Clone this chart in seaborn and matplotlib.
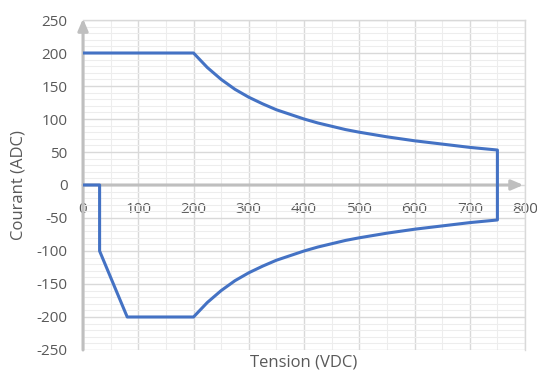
import numpy as np
import pandas as pd
import matplotlib
matplotlib.use("Agg")
import matplotlib.pyplot as plt
import seaborn as sns
from matplotlib.ticker import MultipleLocator

# Données (Tension en VDC, Courant en ADC)
tension = [0, 30, 30, 80, 200, 225, 250, 275, 300, 325, 350, 375, 400, 425, 450, 475,
           500, 550, 600, 650, 700, 750, 750, 700, 650, 600, 550, 500, 475, 450, 425,
           400, 375, 350, 325, 300, 275, 250, 225, 200, 0]
courant = [0, 0, -100, -200, -200, -178, -160, -145, -133, -123, -114, -107, -100, -94,
           -89, -84, -80, -73, -67, -62, -57, -53, 53, 57, 62, 67, 73, 80, 84, 89, 94,
           100, 107, 114, 123, 133, 145, 160, 178, 200, 200]

df = pd.DataFrame({"Tension": tension, "Courant": courant})

sns.set_style("white")
plt.rcParams["font.family"] = ["Open Sans", "DejaVu Sans"]
plt.rcParams["axes.unicode_minus"] = False

fig = plt.figure(figsize=(5.37, 3.74), dpi=100)
ax = fig.add_axes([0.1546, 0.0642, 0.8231, 0.8823])

sns.lineplot(data=df, x="Tension", y="Courant", sort=False, estimator=None,
             color="#4472C4", linewidth=2.2, ax=ax, zorder=5)

ax.set_xlim(0, 800)
ax.set_ylim(-250, 250)
ax.xaxis.set_major_locator(MultipleLocator(100))
ax.xaxis.set_minor_locator(MultipleLocator(50))
ax.yaxis.set_major_locator(MultipleLocator(50))
ax.yaxis.set_minor_locator(MultipleLocator(10))
ax.grid(which="major", color="#D9D9D9", linewidth=1.0)
ax.grid(which="minor", color="#EDEDED", linewidth=0.8)
ax.set_axisbelow(True)

# axes en croix avec flèches
ax.spines["bottom"].set_position(("data", 0))
for s in ["bottom", "left"]:
    ax.spines[s].set_visible(False)
for s in ["top", "right"]:
    ax.spines[s].set_color("#D9D9D9")
    ax.spines[s].set_linewidth(1.0)

arrow = dict(arrowstyle="-|>,head_length=0.7,head_width=0.3", color="#BFBFBF",
             linewidth=2.2, shrinkA=0, shrinkB=0)
ax.annotate("", xy=(797, 0), xytext=(0, 0), arrowprops=arrow, zorder=3)
ax.annotate("", xy=(0, 252), xytext=(0, -250), arrowprops=arrow, zorder=3,
            annotation_clip=False)

ax.tick_params(axis="both", which="both", length=0, labelsize=11, labelcolor="#595959")
ax.tick_params(axis="x", pad=12)
ax.tick_params(axis="y", pad=11)

ax.set_xlabel("Tension (VDC)", fontsize=12, color="#595959")
ax.set_ylabel("Courant (ADC)", fontsize=12, color="#595959")
ax.xaxis.set_label_coords(0.5, -0.015)
ax.yaxis.set_label_coords(-0.129, 0.5)

fig.savefig("out.png", dpi=100)
